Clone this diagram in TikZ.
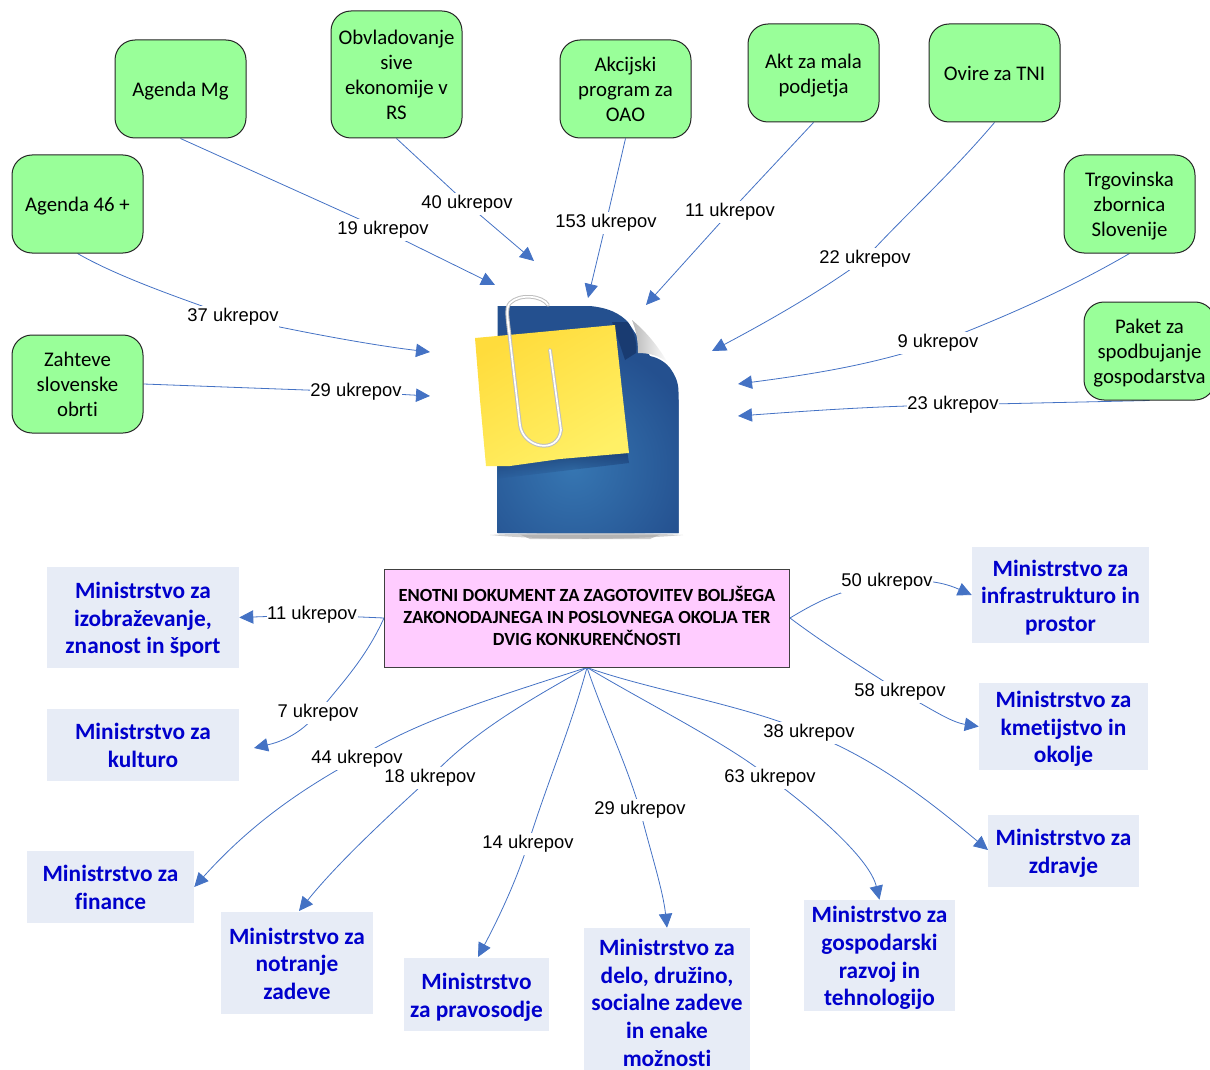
\documentclass[tikz,border=0pt]{standalone}
\usepackage{fontspec}
\setmainfont[Ligatures=NoCommon]{Carlito}
\newfontfamily\lblfont{Liberation Sans}
\usetikzlibrary{arrows.meta,backgrounds,fadings}
\definecolor{gfill}{HTML}{99FF99}
\definecolor{bfill}{HTML}{E7ECF6}
\definecolor{btext}{HTML}{0000CC}
\definecolor{pfill}{HTML}{FFCCFF}
\definecolor{conn}{HTML}{4472C4}
\definecolor{arrowc}{HTML}{4472C4}
\definecolor{docdark}{HTML}{24508F}
\definecolor{doclight}{HTML}{3676B2}
\definecolor{docshade}{HTML}{163468}
\definecolor{notetop}{HTML}{FFDC3C}
\definecolor{notelow}{HTML}{FFF066}
% first-line and last-line struts, sized per box style
\newcommand\fa{}
\newcommand\fz{}
\tikzset{
  sz/.style 2 args={minimum width=#1*0.75pt,minimum height=#2*0.75pt},
  greenbox/.style={draw=black!85,line width=0.75pt,fill=gfill,rounded corners=15pt,inner sep=0pt,align=center,text=black,
    font=\fontsize{15.6pt}{18.7pt}\selectfont\def\fa{\rule{0pt}{16.6pt}}\def\fz{\rule[-5.1pt]{0pt}{5.1pt}}},
  bluebox/.style={fill=bfill,inner sep=0pt,align=center,text=btext,
    font=\fontsize{17.5pt}{20.8pt}\selectfont\bfseries\def\fa{\rule{0pt}{16.9pt}}\def\fz{\rule[-3.8pt]{0pt}{3.8pt}}},
  mainbox/.style={draw=black!75,line width=0.75pt,fill=pfill,inner sep=0pt,align=center,text=black,
    font=\fontsize{13.9pt}{16.8pt}\selectfont\bfseries\def\fa{\rule{0pt}{13.8pt}}\def\fz{\rule[-5.5pt]{0pt}{5.5pt}}},
  lbl/.style={fill=white,inner xsep=0.5pt,inner ysep=0pt,minimum height=17pt,yshift=-1.4pt,font=\lblfont\fontsize{13.8pt}{16pt}\selectfont},
  link/.style={draw=conn,line width=0.6pt},
  linkarrow/.style={link,-{Triangle[length=10.5pt,width=10pt,color=arrowc]}},
  clipedge/.style={line cap=round,line join=round},
}
\begin{document}
\begin{tikzpicture}[x=0.75pt,y=-0.75pt]
\useasboundingbox (0,0) rectangle (1210,1070);

% ---------- document icon ----------
\fill[gray!70,opacity=.55] (490,535) .. controls (540,532) and (630,532) .. (683,535) .. controls (630,540) and (540,540) .. (490,535) -- cycle;
\fill[gray!80,opacity=.5] (520,534.5) -- (660,534.5) -- (650,539) -- (530,539) -- cycle;
\def\docpath{(497.5,306) -- (590,306) .. controls (610,308) and (620,314) .. (628,322)
  -- (650,356) .. controls (660,358) and (667,364) .. (670,368) .. controls (675,375) and (678.5,382) .. (678.5,392)
  -- (678.5,533) -- (497.5,533) -- cycle}
\begin{scope}
  \clip \docpath;
  \fill[docdark] (490,300) rectangle (690,540);
  \shade[inner color=doclight,outer color=docdark] (573,467) circle (125);
  \fill[docshade,opacity=.75] (628,322) .. controls (636,335) and (637,345) .. (636,353) -- (625,360) -- (620,345) -- (612,322) -- cycle;
  \fill[docshade,opacity=.7,path fading=south] (488,464) -- (627,451) -- (629,463) -- (495,479) -- cycle;
\end{scope}
\shade[left color=gray!55,right color=white] (632,320) .. controls (650,335) and (660,350) .. (668,363)
  .. controls (660,356) and (650,353) .. (638,353) .. controls (638,340) and (636,330) .. (632,320) -- cycle;
\shade[top color=notetop,bottom color=notelow,shading angle=30]
  (475,338) -- (530,333) -- (615,325) -- (622,390) -- (629,453) -- (560,459) -- (510,466) -- (486,466) -- (480,400) -- cycle;
\draw[gray!50,line width=2.8pt,clipedge]
  (548,305) .. controls (543,296) and (520,293) .. (510,303) .. controls (505,308) and (508,320) .. (510,340)
  -- (520,425) .. controls (523,448) and (558,455) .. (561,430) -- (550,350);
\draw[white,line width=1.3pt,clipedge]
  (548,305) .. controls (543,296) and (520,293) .. (510,303) .. controls (505,308) and (508,320) .. (510,340)
  -- (520,425) .. controls (523,448) and (558,455) .. (561,430) -- (550,350);

% ---------- source boxes ----------
\node[greenbox,sz={131}{98}] (mg) at (180.5,89) {\fa Agenda Mg\fz};
\node[greenbox,sz={131}{127}] (siva) at (396.5,74.5) {\fa Obvladovanje\\sive\\ekonomije v\\RS\fz};
\node[greenbox,sz={131}{98}] (oao) at (625.5,89) {\fa Akcijski\\program za\\OAO\fz};
\node[greenbox,sz={131}{98}] (akt) at (813.5,73) {\fa Akt za mala\\podjetja\fz};
\node[greenbox,sz={131}{98}] (tni) at (994.5,73) {\fa Ovire za TNI\fz};
\node[greenbox,sz={131}{98}] (tzs) at (1129.5,204) {\fa Trgovinska\\zbornica\\Slovenije\fz};
\node[greenbox,sz={131}{98}] (paket) at (1149.5,351) {\fa Paket za\\spodbujanje\\gospodarstva\fz};
\node[greenbox,sz={131}{98}] (a46) at (77.5,204) {\fa Agenda 46 +\fz};
\node[greenbox,sz={131}{98}] (obrt) at (77.5,384) {\fa Zahteve\\slovenske\\obrti\fz};

% ---------- central box ----------
\node[mainbox,sz={405}{98}] (main) at (587,618) {\fa ENOTNI DOKUMENT ZA ZAGOTOVITEV BOLJŠEGA\\ZAKONODAJNEGA IN POSLOVNEGA OKOLJA TER\\DVIG KONKURENČNOSTI\fz};

% ---------- ministries ----------
\node[bluebox,sz={192}{101}] (izo) at (143,617.5) {\fa Ministrstvo za\\izobraževanje,\\znanost in šport\fz};
\node[bluebox,sz={192}{72}] (kul) at (143,745) {\fa Ministrstvo za\\kulturo\fz};
\node[bluebox,sz={167}{72}] (fin) at (110.5,887) {\fa Ministrstvo za\\finance\fz};
\node[bluebox,sz={152}{102}] (not) at (297,963) {\fa Ministrstvo za\\notranje\\zadeve\fz};
\node[bluebox,sz={145}{73}] (pra) at (476.5,994.5) {\fa Ministrstvo\\za pravosodje\fz};
\node[bluebox,sz={166}{142}] (del) at (667,999) {\rule{0pt}{20.4pt}Ministrstvo za\\delo, družino,\\socialne zadeve\\in enake\\možnosti\rule[-2.8pt]{0pt}{2.8pt}};
\node[bluebox,sz={151}{111}] (gos) at (879.5,955.5) {\fa Ministrstvo za\\gospodarski\\razvoj in\\tehnologijo\fz};
\node[bluebox,sz={151}{72}] (zdr) at (1063.5,851) {\fa Ministrstvo za\\zdravje\fz};
\node[bluebox,sz={169}{87}] (kme) at (1063.5,726.5) {\fa Ministrstvo za\\kmetijstvo in\\okolje\fz};
\node[bluebox,sz={177}{96}] (inf) at (1060.5,595) {\fa Ministrstvo za\\infrastrukturo in\\prostor\fz};

% ---------- free ends at the icon ----------
\coordinate (e1) at (495,285);
\coordinate (e2) at (534,261);
\coordinate (e3) at (588,298);
\coordinate (e4) at (646,305);
\coordinate (e5) at (712,351);
\coordinate (e6) at (738,384);
\coordinate (e7) at (738,416);
\coordinate (e8) at (430,352);
\coordinate (e9) at (430,396);
\coordinate (e10) at (254,748);
\coordinate (e11) at (299,911);
\coordinate (e12) at (478,957);
\coordinate (e13) at (988,850);

% ---------- labels ----------
\node[lbl] (l19) at (383,228) {19 ukrepov};
\node[lbl] (l40) at (467,202) {40 ukrepov};
\node[lbl] (l153) at (606,221) {153 ukrepov};
\node[lbl] (l11a) at (730,210) {11 ukrepov};
\node[lbl] (l22) at (865,257) {22 ukrepov};
\node[lbl] (l9) at (938,341) {9 ukrepov};
\node[lbl] (l23) at (953,403) {23 ukrepov};
\node[lbl] (l37) at (233,315) {37 ukrepov};
\node[lbl] (l29a) at (356,390) {29 ukrepov};
\node[lbl] (l11b) at (312,613) {11 ukrepov};
\node[lbl] (l7) at (318,711) {7 ukrepov};
\node[lbl] (l44) at (357,757) {44 ukrepov};
\node[lbl] (l18) at (430,776) {18 ukrepov};
\node[lbl] (l14) at (528,842) {14 ukrepov};
\node[lbl] (l29b) at (640,808) {29 ukrepov};
\node[lbl] (l63) at (770,776) {63 ukrepov};
\node[lbl] (l38) at (809,731) {38 ukrepov};
\node[lbl] (l50) at (887,580) {50 ukrepov};
\node[lbl] (l58) at (900,690) {58 ukrepov};

% ---------- connectors ----------
\begin{scope}[on background layer]
\draw[linkarrow] (mg.south) -- (l19.center) -- (e1);
\draw[linkarrow] (siva.south) -- (l40.center) -- (e2);
\draw[linkarrow] (oao.south) -- (l153.center) -- (e3);
\draw[linkarrow] (akt.south) -- (l11a.center) -- (e4);
\draw[linkarrow] (tni.south) .. controls (950,175) and (900,220) .. (l22.center) .. controls (830,285) and (780,315) .. (e5);
\draw[linkarrow] (tzs.south) .. controls (1070,288) and (1010,315) .. (l9.center) .. controls (880,362) and (830,372) .. (e6);
\draw[linkarrow] (paket.south) -- (l23.center) .. controls (880,406) and (820,410) .. (e7);
\draw[linkarrow] (a46.south) .. controls (115,275) and (170,295) .. (l37.center) .. controls (290,330) and (370,345) .. (e8);
\draw[linkarrow] (obrt.east) -- (l29a.center) -- (e9);
\draw[linkarrow] (main.west) -- (l11b.center) -- (izo.east);
\draw[linkarrow] (main.west) .. controls (365,660) and (340,685) .. (l7.center) .. controls (300,735) and (280,742) .. (e10);
\draw[linkarrow] (main.south) .. controls (470,705) and (410,725) .. (l44.center) .. controls (300,790) and (250,825) .. (fin.east);
\draw[linkarrow] (main.south) .. controls (520,705) and (470,735) .. (l18.center) .. controls (395,810) and (340,860) .. (e11);
\draw[linkarrow] (main.south) .. controls (570,730) and (550,775) .. (l14.center) .. controls (515,885) and (495,925) .. (e12);
\draw[linkarrow] (main.south) .. controls (605,720) and (625,760) .. (l29b.center) .. controls (650,850) and (663,890) .. (del.north);
\draw[linkarrow] (main.south) .. controls (650,705) and (730,745) .. (l63.center) .. controls (820,815) and (870,860) .. (gos.north);
\draw[linkarrow] (main.south) .. controls (650,690) and (745,705) .. (l38.center) .. controls (880,760) and (940,810) .. (e13);
\draw[linkarrow] (main.east) .. controls (820,600) and (840,590) .. (l50.center) .. controls (925,578) and (945,583) .. (inf.west);
\draw[linkarrow] (main.east) .. controls (830,648) and (870,672) .. (l58.center) .. controls (930,708) and (950,722) .. (kme.west);
\end{scope}
\end{tikzpicture}
\end{document}
